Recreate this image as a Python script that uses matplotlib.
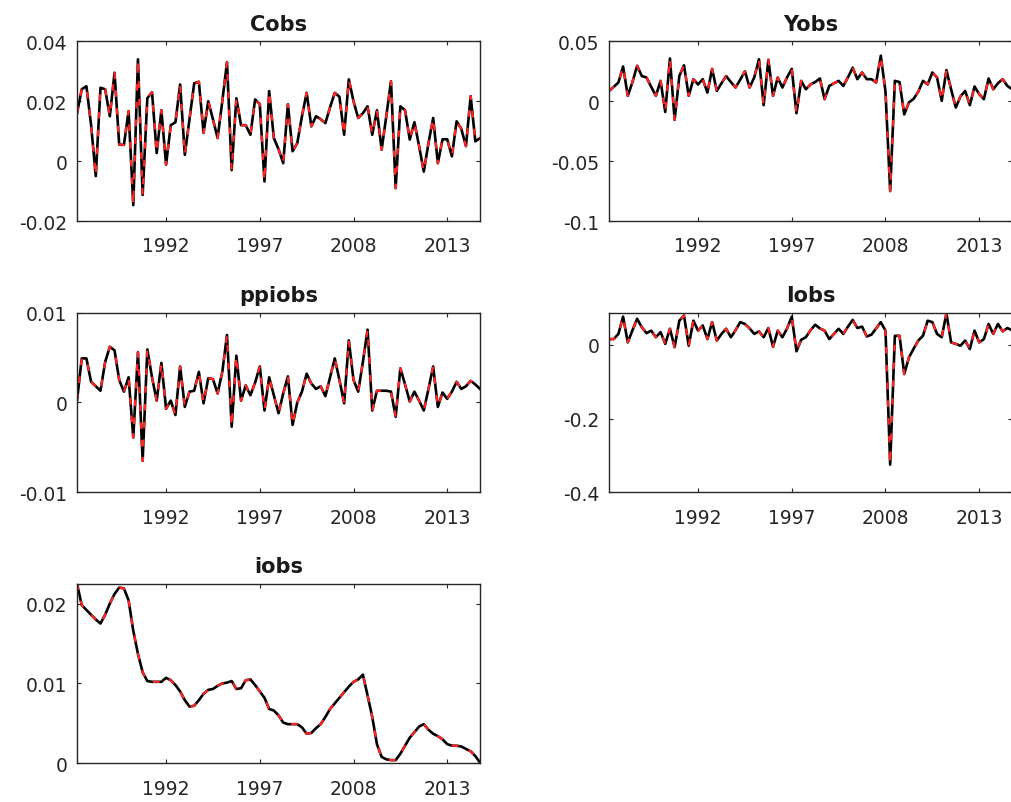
import matplotlib
matplotlib.use("Agg")
import matplotlib.pyplot as plt
from matplotlib.ticker import FuncFormatter

plt.rcParams['font.family'] = ['DejaVu Sans']
plt.rcParams['axes.unicode_minus'] = False

# x positions are observation numbers 1..87, labelled with four years
tick_pos = [20, 40, 60, 80]
tick_labels = ['1992', '1997', '2008', '2013']

cobs = [0.016, 0.024, 0.025, 0.012, -0.005, 0.0245, 0.024, 0.015, 0.0295, 0.0055,
        0.0054, 0.0167, -0.0147, 0.034, -0.0113, 0.021, 0.023, 0.0027, 0.017, -0.0012,
        0.012, 0.013, 0.0256, 0.0021, 0.014, 0.026, 0.0265, 0.0094, 0.020, 0.014,
        0.0077, 0.020, 0.033, -0.003, 0.021, 0.012, 0.012, 0.0088, 0.0206, 0.019,
        -0.0068, 0.0234, 0.0077, 0.004, -0.0007, 0.019, 0.0033, 0.006, 0.015, 0.0228,
        0.0116, 0.015, 0.014, 0.0127, 0.018, 0.0228, 0.0215, 0.0088, 0.0273, 0.020,
        0.0144, 0.016, 0.0183, 0.0088, 0.017, 0.0038, 0.015, 0.0267, -0.009, 0.0183,
        0.017, 0.0072, 0.013, 0.005, -0.0035, 0.006, 0.0144, -0.0007, 0.0073, 0.0073,
        0.0016, 0.0133, 0.0108, 0.005, 0.0217, 0.0066, 0.0077]

yobs = [0.0086, 0.012, 0.0156, 0.029, 0.0045, 0.016, 0.0296, 0.021, 0.0198, 0.012,
        0.0045, 0.017, -0.009, 0.0357, -0.0156, 0.021, 0.030, 0.0045, 0.0184, 0.014,
        0.0184, 0.0072, 0.027, 0.0086, 0.015, 0.021, 0.016, 0.0114, 0.018, 0.025,
        0.0114, 0.020, 0.035, -0.0033, 0.0346, 0.0045, 0.0198, 0.0114, 0.020, 0.027,
        -0.010, 0.017, 0.010, 0.014, 0.016, 0.019, 0.0017, 0.0128, 0.015, 0.017,
        0.0128, 0.020, 0.028, 0.0184, 0.024, 0.0184, 0.0184, 0.0156, 0.038, 0.008,
        -0.075, 0.017, 0.016, -0.011, -0.001, 0.002, 0.008, 0.017, 0.014, 0.024,
        0.0198, 0.0003, 0.026, 0.010, -0.0053, 0.004, 0.0086, -0.0033, 0.0123, 0.0059,
        0.0017, 0.019, 0.010, 0.015, 0.0184, 0.0128, 0.010]

ppiobs = [0.0002, 0.0049, 0.0049, 0.0023, 0.0018, 0.0013, 0.0045, 0.0062, 0.0058, 0.0025,
          0.0012, 0.0028, -0.0039, 0.0056, -0.0065, 0.0059, 0.0028, 0.0002, 0.0044, -0.0007,
          0.0002, -0.0014, 0.004, -0.0005, 0.0012, 0.0013, 0.0034, -0.0001, 0.0027, 0.0026,
          0.001, 0.0034, 0.0075, -0.0027, 0.0052, 0.0002, 0.0019, 0.0008, 0.0022, 0.004,
          -0.0009, 0.0028, 0.0008, -0.0012, 0.001, 0.0029, -0.0025, 0.0, 0.0012, 0.0032,
          0.0021, 0.0015, 0.0018, 0.0007, 0.0028, 0.0049, 0.0025, -0.0001, 0.0069, 0.0025,
          0.0012, 0.0045, 0.0081, -0.0009, 0.0013, 0.0013, 0.0013, 0.0012, -0.0016, 0.0038,
          0.002, 0.0001, 0.0012, 0.0002, -0.0009, 0.0015, 0.004, -0.0005, 0.0011, 0.0004,
          0.0012, 0.0023, 0.0015, 0.0018, 0.0024, 0.002, 0.0015]

Iobs = [0.016, 0.016, 0.03, 0.077, 0.007, 0.04, 0.071, 0.048, 0.032, 0.039,
        0.021, 0.035, 0.003, 0.044, -0.006, 0.066, 0.08, -0.002, 0.066, 0.039,
        0.053, 0.016, 0.062, 0.012, 0.03, 0.044, 0.021, 0.04, 0.062, 0.057,
        0.045, 0.03, 0.037, 0.021, 0.046, -0.005, 0.039, 0.021, 0.045, 0.077,
        -0.017, 0.014, 0.021, 0.04, 0.055, 0.045, 0.039, 0.016, 0.03, 0.044,
        0.03, 0.05, 0.068, 0.046, 0.05, 0.023, 0.028, 0.045, 0.062, 0.039,
        -0.325, 0.025, 0.025, -0.079, -0.034, -0.01, 0.012, 0.025, 0.066, 0.062,
        0.03, 0.021, 0.086, 0.007, 0.003, -0.002, 0.012, -0.011, 0.039, 0.007,
        0.016, 0.057, 0.03, 0.057, 0.037, 0.046, 0.04]

iobs = [0.0225, 0.0198, 0.0192, 0.0186, 0.018, 0.0175, 0.0186, 0.02, 0.0212, 0.022,
        0.0219, 0.0204, 0.0166, 0.0137, 0.0114, 0.0103, 0.0102, 0.0102, 0.0102, 0.0107,
        0.0104, 0.0098, 0.009, 0.0079, 0.0071, 0.0072, 0.0079, 0.0087, 0.0092, 0.0093,
        0.0097, 0.01, 0.0101, 0.0103, 0.0093, 0.0094, 0.0104, 0.0105, 0.0098, 0.009,
        0.0082, 0.0068, 0.0066, 0.006, 0.0051, 0.0049, 0.0049, 0.0049, 0.0045, 0.0037,
        0.0038, 0.0044, 0.0049, 0.0058, 0.0068, 0.0075, 0.0082, 0.0089, 0.0096, 0.0102,
        0.0105, 0.0111, 0.0085, 0.0058, 0.0024, 0.0008, 0.0005, 0.0004, 0.0004, 0.0012,
        0.0022, 0.0032, 0.0039, 0.0046, 0.0049, 0.0042, 0.0037, 0.0034, 0.003, 0.0024,
        0.0022, 0.0022, 0.0021, 0.0018, 0.0015, 0.0009, 0.0001]

panels = [
    ('Cobs', cobs, (-0.02, 0.04), [-0.02, 0, 0.02, 0.04]),
    ('Yobs', yobs, (-0.1, 0.05), [-0.1, -0.05, 0, 0.05]),
    ('ppiobs', ppiobs, (-0.01, 0.01), [-0.01, 0, 0.01]),
    ('Iobs', Iobs, (-0.4, 0.088), [-0.4, -0.2, 0]),
    ('iobs', iobs, (0, 0.0225), [0, 0.01, 0.02]),
]

# axes rectangles in figure fractions (right column runs off the edge)
lefts = [0.0762, 0.6024]
bottoms = [0.7235, 0.3857, 0.0482]
w, h = 0.3986, 0.2238

fig = plt.figure(figsize=(10.11, 8.03), dpi=100)
fmt = FuncFormatter(lambda v, p: f"{v:g}")

for k, (name, vals, ylim, yt) in enumerate(panels):
    ax = fig.add_axes([lefts[k % 2], bottoms[k // 2], w, h])
    t = range(1, len(vals) + 1)
    ax.plot(t, vals, color='black', lw=1.9)
    ax.plot(t, vals, color='#ff2525', lw=1.6, dashes=(3, 5))
    ax.set_xlim(1, len(vals))
    ax.set_ylim(*ylim)
    ax.set_xticks(tick_pos)
    ax.set_xticklabels(tick_labels)
    ax.set_yticks(yt)
    ax.yaxis.set_major_formatter(fmt)
    ax.tick_params(axis='both', direction='in', length=3, width=0.8,
                   top=True, right=True, labelsize=13.5, colors='#262626')
    ax.tick_params(axis='x', pad=11)
    ax.tick_params(axis='y', pad=7)
    for s in ax.spines.values():
        s.set_color('#262626')
        s.set_linewidth(1.0)
    ax.set_title(name, fontsize=15, fontweight='bold', color='#1a1a1a', pad=8)

fig.savefig('out.png', dpi=100)
